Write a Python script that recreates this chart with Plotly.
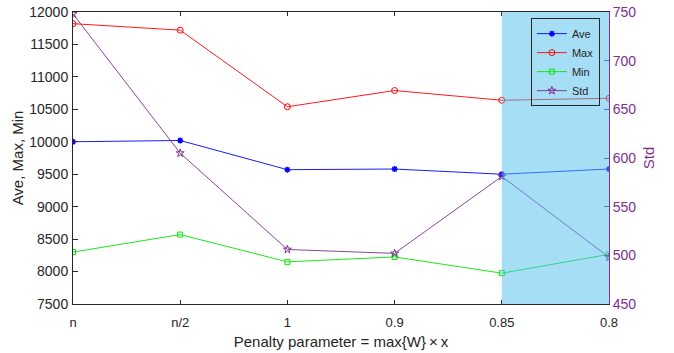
import plotly.graph_objects as go

# Penalty settings along the x axis
categories = ["n", "n/2", "1", "0.9", "0.85", "0.8"]

# Objective statistics (left axis)
ave_vals = [10000, 10020, 9570, 9580, 9500, 9580]
max_vals = [11820, 11720, 10540, 10790, 10640, 10670]
min_vals = [8300, 8570, 8150, 8225, 7975, 8265]

# Standard deviation (right axis)
std_vals = [748, 605, 506, 502, 581, 498]

# Highlighted span of penalty settings
highlight = ["0.85", "0.8"]

xs = list(range(len(categories)))
FONT = "Liberation Sans, Arial, Helvetica, sans-serif"
DARK = "#262626"
PURPLE = "#7E2F8E"

fig = go.Figure()

fig.add_trace(go.Scatter(
    x=xs, y=ave_vals, name="Ave", mode="lines+markers",
    line=dict(color="rgb(0,0,255)", width=0.9),
    marker=dict(symbol="asterisk-open", size=5, color="rgb(0,0,255)",
                line=dict(color="rgb(0,0,255)", width=1.5)),
))
fig.add_trace(go.Scatter(
    x=xs, y=max_vals, name="Max", mode="lines+markers",
    line=dict(color="rgb(255,0,0)", width=0.9),
    marker=dict(symbol="circle-open", size=6, color="rgb(255,0,0)",
                line=dict(color="rgb(255,0,0)", width=1)),
))
fig.add_trace(go.Scatter(
    x=xs, y=min_vals, name="Min", mode="lines+markers",
    line=dict(color="rgb(0,230,0)", width=0.9),
    marker=dict(symbol="square-open", size=5, color="rgb(0,230,0)",
                line=dict(color="rgb(0,230,0)", width=1)),
))
fig.add_trace(go.Scatter(
    x=xs, y=std_vals, name="Std", mode="lines+markers", yaxis="y2",
    line=dict(color=PURPLE, width=0.9),
    marker=dict(symbol="star-open", size=6, color=PURPLE,
                line=dict(color=PURPLE, width=1)),
))

# Semi-transparent band over the highlighted settings
fig.add_shape(
    type="rect", xref="x", yref="paper",
    x0=categories.index(highlight[0]), x1=categories.index(highlight[1]),
    y0=0, y1=1, layer="above",
    fillcolor="rgba(77,190,238,0.5)", line=dict(width=0),
)

fig.update_layout(
    width=674, height=353,
    margin=dict(l=73, r=65, t=12, b=49),
    paper_bgcolor="white", plot_bgcolor="white",
    font=dict(family=FONT, size=14, color=DARK),
    showlegend=True,
    legend=dict(
        x=0.983, xanchor="right", y=0.979, yanchor="top",
        bgcolor="rgba(0,0,0,0)", bordercolor=DARK, borderwidth=1,
        font=dict(size=11, color=DARK), tracegroupgap=0,
        itemwidth=30,
    ),
    xaxis=dict(
        range=[0, len(categories) - 1], automargin=False,
        tickmode="array", tickvals=xs, ticktext=categories,
        ticks="inside", ticklen=4, tickcolor=DARK,
        showline=True, linecolor=DARK, linewidth=1, mirror="ticks",
        showgrid=False, zeroline=False, ticklabelstandoff=6,
        title=dict(text="Penalty parameter = max{W}\u2009×\u2009x", standoff=7,
                   font=dict(size=15, color=DARK)),
        tickfont=dict(size=13, color=DARK),
    ),
    yaxis=dict(
        range=[7500, 12000], dtick=500, tickformat="d", automargin=False,
        ticks="inside", ticklen=5, tickcolor=DARK,
        showline=True, linecolor=DARK, linewidth=1,
        showgrid=False, zeroline=False, ticklabelstandoff=1,
        title=dict(text="Ave, Max, Min", standoff=2,
                   font=dict(size=15, color=DARK)),
        tickfont=dict(size=14, color=DARK),
    ),
    yaxis2=dict(
        range=[450, 750], dtick=50, overlaying="y", side="right",
        automargin=False,
        ticks="inside", ticklen=5, tickcolor=PURPLE,
        showline=True, linecolor=PURPLE, linewidth=1,
        showgrid=False, zeroline=False,
        title=dict(text="Std", standoff=8, font=dict(size=15, color=PURPLE)),
        tickfont=dict(size=14, color=PURPLE),
    ),
)

fig.write_html("out.html")
